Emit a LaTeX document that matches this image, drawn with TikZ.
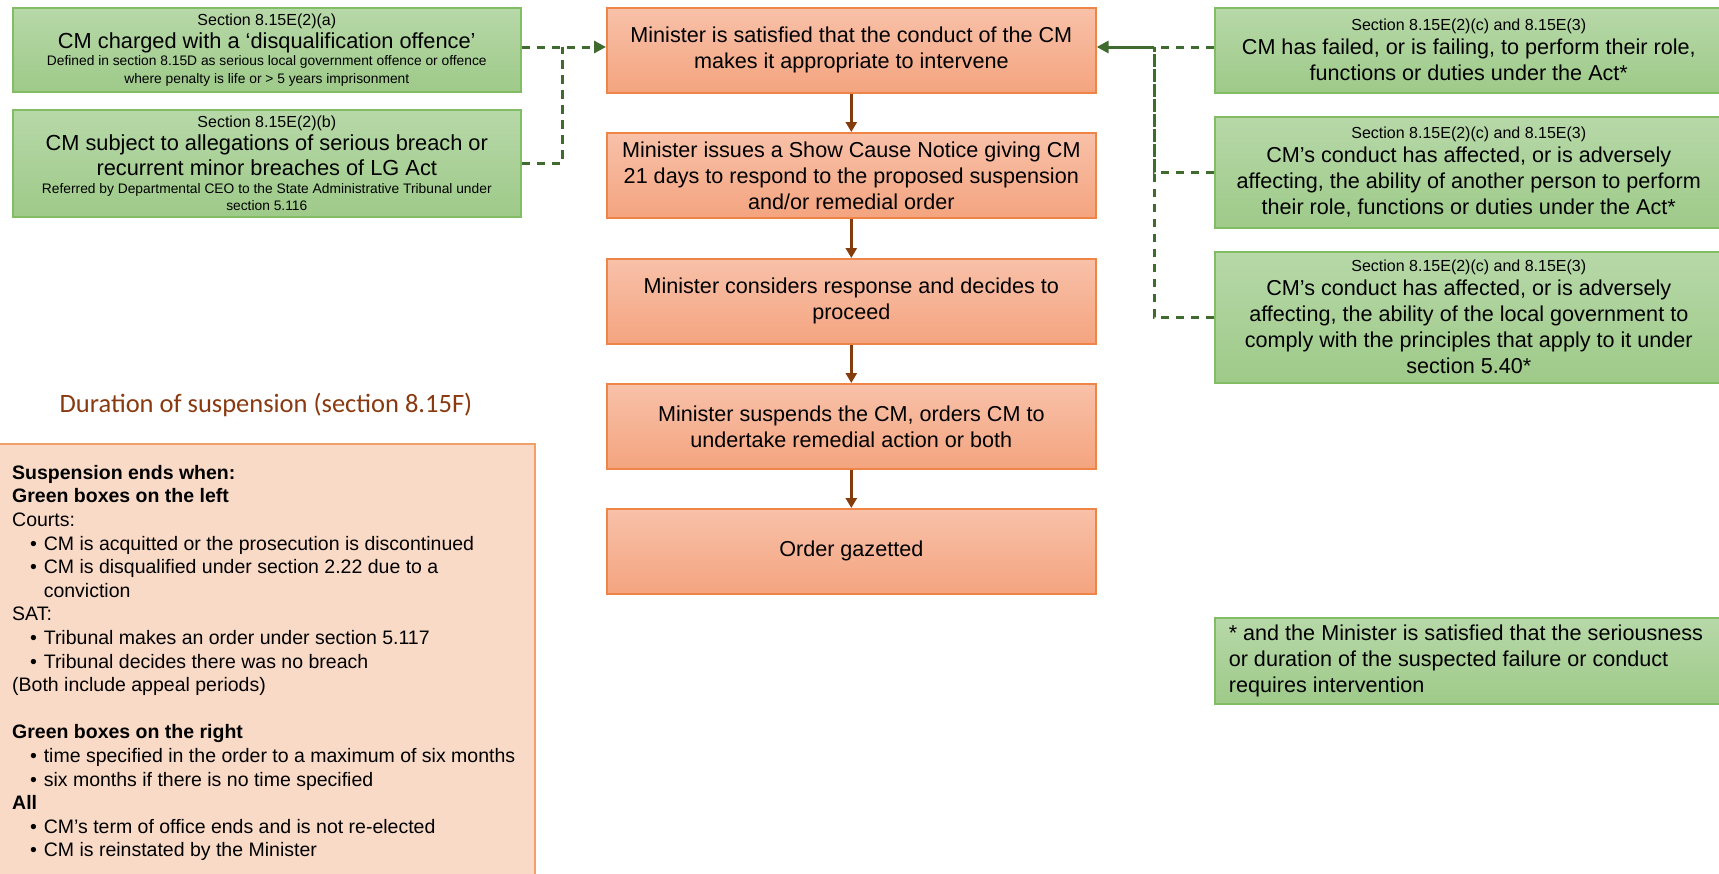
\documentclass[tikz,border=0pt]{standalone}
\usepackage{fontspec}
\setmainfont{Liberation Sans}
\newfontfamily\calibri{Carlito}
\usetikzlibrary{arrows.meta}
\definecolor{gfillT}{HTML}{B7D8A8}
\definecolor{gfillB}{HTML}{9ECA89}
\definecolor{gline}{HTML}{82BC64}
\definecolor{ofillT}{HTML}{F8C1A9}
\definecolor{ofillB}{HTML}{F4A47F}
\definecolor{oline}{HTML}{EE8447}
\definecolor{tanfill}{HTML}{F9DAC6}
\definecolor{tanline}{HTML}{F2A06A}
\definecolor{brownarrow}{HTML}{843C0C}
\definecolor{dashgreen}{HTML}{406B2E}
\definecolor{titlebrown}{HTML}{8A3A10}
\newcommand\fsect{\fontsize{16}{19}\selectfont}
\newcommand\fbigL{\fontsize{21.8}{25}\selectfont}
\newcommand\fbigR{\fontsize{21.6}{26}\selectfont}
\newcommand\ftiny{\fontsize{13.8}{17.5}\selectfont}
\newcommand\ftan{\fontsize{19.5}{23.6}\selectfont}
\newcommand\sectline[1]{{\fsect #1\par}\vspace{-2pt}}
\newcommand\bul[1]{\hspace*{18pt}\makebox[13.6pt][l]{•}#1}
\tikzset{
  box/.style={rectangle, inner xsep=0pt, inner ysep=0pt, anchor=north west, align=flush center, line width=1.6pt},
  gbox/.style={box, draw=gline, top color=gfillT, bottom color=gfillB},
  obox/.style={box, draw=oline, top color=ofillT, bottom color=ofillB, font=\fbigR, text width=489pt, minimum height=85pt},
  brownarr/.style={draw=brownarrow, line width=2.6pt, -{Triangle[width=11pt,length=10pt]}},
  dashg/.style={draw=dashgreen, line width=3pt, dash pattern=on 8.5pt off 6.5pt},
  greentip/.style={-{Triangle[width=12pt,length=12pt]}},
}
\begin{document}
\begin{tikzpicture}[x=1pt,y=-1pt]
\useasboundingbox (0,0) rectangle (1719,873);
\clip (0,0) rectangle (1719,873);
% left green boxes
\node[gbox, text width=508pt, minimum height=84pt] (lg1) at (12,7)
 {\sectline{Section 8.15E(2)(a)}\fbigL CM charged with a ‘disqualification offence’\par
  \ftiny Defined in section 8.15D as serious local government offence or offence\\where penalty is life or > 5 years imprisonment\par};
\node[gbox, text width=508pt, minimum height=107pt] (lg2) at (12,109)
 {\sectline{Section 8.15E(2)(b)}\fbigL CM subject to allegations of serious breach or\\recurrent minor breaches of LG Act\par
  \ftiny Referred by Departmental CEO to the State Administrative Tribunal under\\section 5.116\par};
% orange boxes
\node[obox] (o1) at (606,7) {Minister is satisfied that the conduct of the CM\\makes it appropriate to intervene};
\node[obox] (o2) at (606,132) {Minister issues a Show Cause Notice giving CM\\21 days to respond to the proposed suspension\\and/or remedial order};
\node[obox] (o3) at (606,258) {Minister considers response and decides to\\proceed};
\node[obox] (o4) at (606,383) {Minister suspends the CM, orders CM to\\undertake remedial action or both};
\node[obox] (o5) at (606,508) {Order gazetted};
% right green boxes
\node[gbox, text width=508pt, minimum height=85pt] (rg1) at (1214,7)
 {\sectline{Section 8.15E(2)(c) and 8.15E(3)}\fbigR CM has failed, or is failing, to perform their role,\\functions or duties under the Act*\par};
\node[gbox, text width=508pt, minimum height=111pt] (rg2) at (1214,116)
 {\sectline{Section 8.15E(2)(c) and 8.15E(3)}\fbigR CM’s conduct has affected, or is adversely\\affecting, the ability of another person to perform\\their role, functions or duties under the Act*\par};
\node[gbox, text width=508pt, minimum height=131pt] (rg3) at (1214,251)
 {\sectline{Section 8.15E(2)(c) and 8.15E(3)}\fbigR CM’s conduct has affected, or is adversely\\affecting, the ability of the local government to\\comply with the principles that apply to it under\\section 5.40*\par};
\node[gbox, text width=480pt, inner xsep=14pt, minimum height=86pt, align=flush left, font=\fbigR] (fn) at (1214,617)
 {* and the Minister is satisfied that the seriousness\\or duration of the suspected failure or conduct\\requires intervention};
% arrows
\draw[brownarr] (o1.south) -- (o2.north);
\draw[brownarr] (o2.south) -- (o3.north);
\draw[brownarr] (o3.south) -- (o4.north);
\draw[brownarr] (o4.south) -- (o5.north);
\coordinate (jl) at (562,47);
\coordinate (jr) at (1154,47);
\draw[dashg, greentip] (lg1.east |- jl) -- (jl -| o1.west);
\draw[dashg] (lg2.east) -| (jl);
\draw[dashg] (rg1.west |- jr) -- (jr);
\draw[draw=dashgreen, line width=3pt, greentip] (jr) -- (jr -| o1.east);
\draw[dashg] (rg2.west) -| (jr);
\draw[dashg] (rg3.west) -| (jr);
% duration panel
\node[font=\calibri\fontsize{26.5}{30}\selectfont, text=titlebrown] (title) at (266,405) {Duration of suspension (section 8.15F)};
\node[rectangle, draw=tanline, fill=tanfill, line width=1.8pt, anchor=north west, minimum width=536pt, minimum height=445pt, inner sep=0pt] (tan) at (-2,443) {};
\node[anchor=north west, inner sep=0pt, font=\ftan, align=flush left, text width=520pt] (tantext) at (12,465)
 {\textbf{Suspension ends when:}\\
  \textbf{Green boxes on the left}\\
  Courts:\\
  \bul{CM is acquitted or the prosecution is discontinued}\\
  \bul{CM is disqualified under section 2.22 due to a}\\
  \hspace*{31.6pt}conviction\\
  SAT:\\
  \bul{Tribunal makes an order under section 5.117}\\
  \bul{Tribunal decides there was no breach}\\
  (Both include appeal periods)\\[23.6pt]
  \textbf{Green boxes on the right}\\
  \bul{time specified in the order to a maximum of six months}\\
  \bul{six months if there is no time specified}\\
  \textbf{All}\\
  \bul{CM’s term of office ends and is not re-elected}\\
  \bul{CM is reinstated by the Minister}};
\end{tikzpicture}
\end{document}
